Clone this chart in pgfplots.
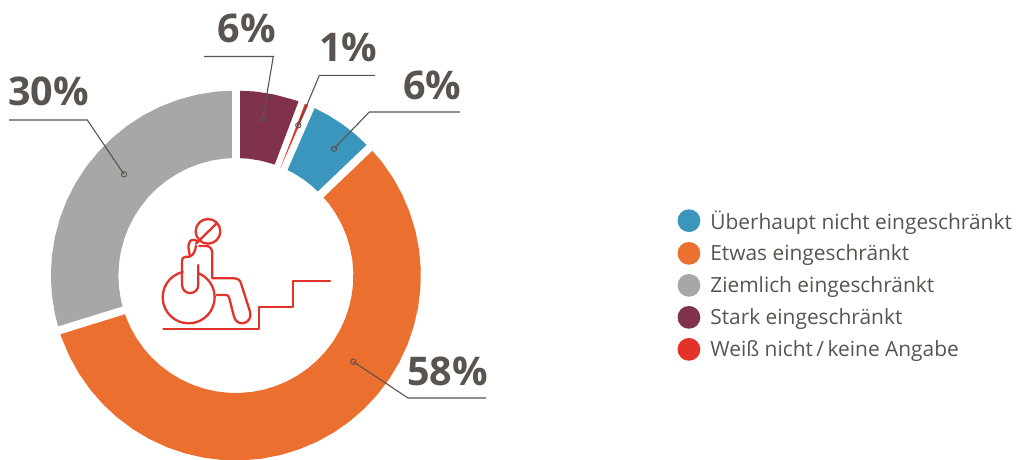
\documentclass[border=0pt]{standalone}
\usepackage{pgfplots}
\pgfplotsset{compat=1.18}
\usepackage{fontspec}
\setmainfont{Open Sans}
\definecolor{cblue}{HTML}{3A96BC}
\definecolor{corange}{HTML}{EB7030}
\definecolor{cgray}{HTML}{A9A7A5}
\definecolor{cdark}{HTML}{80324B}
\definecolor{cred}{HTML}{E2332A}
\definecolor{ctext}{HTML}{59544F}
\begin{document}
\begin{tikzpicture}
\path[use as bounding box] (0,0) rectangle (1018pt,459pt);
\begin{axis}[
  at={(0,0)}, anchor=south west,
  width=1018pt, height=459pt, scale only axis, hide axis, clip=true,
  xmin=-235.85, xmax=782.15, ymin=-183.5, ymax=275.5,
  legend style={at={(677.5/1018,1-208.6/459)}, anchor=north west, draw=none, fill=none,
    inner sep=0pt, outer sep=0pt, font=\fontsize{20.9}{22}\selectfont\color{ctext},
    row sep=9.2pt, column sep=0pt, legend cell align=left, /tikz/every odd column/.append style={column sep=8pt}},
  legend image code/.code={\path[#1] (11.4pt,0pt) circle (11.4pt);},
]
% blue
\addplot[fill=cblue, draw=none, data cs=polar] coordinates {
 (64.8,185)(60,185)(55,185)(50,185)(43.7,185)
 (43.7,117.5)(50,117.5)(55,117.5)(60,117.5)(63.9,117.5)} -- cycle;
\addlegendentry{Überhaupt nicht eingeschränkt}
% orange: from 43.7 to -162.75 degrees
\addplot[fill=corange, draw=none, data cs=polar] coordinates {
 (43.7,185)(38,185)(32,185)(26,185)(20,185)(14,185)(8,185)(2,185)(-4,185)(-10,185)(-16,185)(-22,185)
 (-28,185)(-34,185)(-40,185)(-46,185)(-52,185)(-58,185)(-64,185)(-70,185)(-76,185)(-82,185)(-88,185)
 (-94,185)(-100,185)(-106,185)(-112,185)(-118,185)(-124,185)(-130,185)(-136,185)(-142,185)(-148,185)
 (-154,185)(-160,185)(-162.75,185)
 (-162.75,117.5)(-160,117.5)(-154,117.5)(-148,117.5)(-142,117.5)(-136,117.5)(-130,117.5)(-124,117.5)
 (-118,117.5)(-112,117.5)(-106,117.5)(-100,117.5)(-94,117.5)(-88,117.5)(-82,117.5)(-76,117.5)(-70,117.5)
 (-64,117.5)(-58,117.5)(-52,117.5)(-46,117.5)(-40,117.5)(-34,117.5)(-28,117.5)(-22,117.5)(-16,117.5)
 (-10,117.5)(-4,117.5)(2,117.5)(8,117.5)(14,117.5)(20,117.5)(26,117.5)(32,117.5)(38,117.5)(43.7,117.5)} -- cycle;
\addlegendentry{Etwas eingeschränkt}
% gray: from 197.25 to 90 degrees
\addplot[fill=cgray, draw=none, data cs=polar] coordinates {
 (197.25,185)(192,185)(186,185)(180,185)(174,185)(168,185)(162,185)(156,185)(150,185)(144,185)(138,185)
 (132,185)(126,185)(120,185)(114,185)(108,185)(102,185)(96,185)(90,185)
 (90,117.5)(96,117.5)(102,117.5)(108,117.5)(114,117.5)(120,117.5)(126,117.5)(132,117.5)(138,117.5)
 (144,117.5)(150,117.5)(156,117.5)(162,117.5)(168,117.5)(174,117.5)(180,117.5)(186,117.5)(192,117.5)(197.25,117.5)} -- cycle;
\addlegendentry{Ziemlich eingeschränkt}
% dark red
\addplot[fill=cdark, draw=none, data cs=polar] coordinates {
 (90,185)(84,185)(78,185)(72,185)(70.2,185)
 (70.7,117.5)(72,117.5)(78,117.5)(84,117.5)(90,117.5)} -- cycle;
\addlegendentry{Stark eingeschränkt}
% white gaps
\addplot[white, line width=8pt, data cs=polar, forget plot] coordinates {(90,100)(90,200)};
\addplot[white, line width=8pt, data cs=polar, forget plot] coordinates {(43.7,100)(43.7,200)};
\addplot[white, line width=8pt, data cs=polar, forget plot] coordinates {(197.25,100)(197.25,200)};
% red sliver
\addplot[fill=cred, draw=none, data cs=polar] coordinates {(68.1,185)(67.0,185)(67.5,116)} -- cycle;
\addlegendentry{Weiß nicht\,/\,keine Angabe}
\end{axis}
\begin{axis}[
  at={(0,0)}, anchor=south west,
  width=1018pt, height=459pt, scale only axis, hide axis, clip=false,
  xmin=0, xmax=1018, ymin=0, ymax=459, y dir=reverse,
]
\addplot[ctext, line width=1.1pt] coordinates {(204,56.5)(273.3,56.5)(262.7,119)};
\addplot[ctext, line width=1.1pt] coordinates {(375,75.3)(319.4,75.3)(298.3,125.3)};
\addplot[ctext, line width=1.1pt] coordinates {(460,112)(369.3,112)(334,148.7)};
\addplot[ctext, line width=1.1pt] coordinates {(9,120)(87.3,120)(124,174.3)};
\addplot[ctext, line width=1.1pt] coordinates {(486,398)(408,398)(353.3,361.7)};
\addplot[only marks, mark=o, mark size=2.7pt, mark options={draw=ctext, line width=0.9pt, fill=none}] coordinates {
 (262.7,119)(298.3,125.3)(334,148.7)(124,174.3)(353.3,361.7)};
\node[anchor=base west, inner sep=0pt, text=ctext, font=\fontsize{39.5}{44}\selectfont\bfseries] at (axis cs:217.5,42.5) {6\%};
\node[anchor=base west, inner sep=0pt, text=ctext, font=\fontsize{39.5}{44}\selectfont\bfseries] at (axis cs:319,61) {1\%};
\node[anchor=base west, inner sep=0pt, text=ctext, font=\fontsize{39.5}{44}\selectfont\bfseries] at (axis cs:403,99) {6\%};
\node[anchor=base west, inner sep=0pt, text=ctext, font=\fontsize{39.5}{44}\selectfont\bfseries] at (axis cs:8,105) {30\%};
\node[anchor=base west, inner sep=0pt, text=ctext, font=\fontsize{39.5}{44}\selectfont\bfseries] at (axis cs:407,385.5) {58\%};
\end{axis}
\begin{scope}[shift={(160pt,244pt)}, x=0.3333pt, y=-0.3333pt, cred, line width=2.3pt, line cap=round, line join=round]
\draw (144,49) circle[radius=37];
\draw (168,27) -- (108,86);
\draw (112,78) .. controls (100,72) and (90,72) .. (86,88) .. controls (84,100) and (88,112) .. (90,124);
\draw (108,92) .. controls (106,108) and (100,122) .. (88,125) -- (78,125) .. controls (70,125) and (66,130) .. (66,140) -- (66,208) .. controls (66,243) and (115,243) .. (115,208) -- (115,150);
\draw (118,93) -- (138,93) .. controls (150,93) and (157,102) .. (157,115) -- (157,190) -- (222,190) .. controls (235,190) and (241,196) .. (244,208) -- (270,290) .. controls (280,325) and (232,340) .. (222,305) -- (208,250) .. controls (206,243) and (204,240) .. (198,240) -- (170,240);
\draw (86,247) ++(257:78) arc[start angle=257, end angle=-68, radius=78];
\draw (10,343) -- (298,343) -- (298,275) -- (398,275) -- (398,198) -- (510,198);
\end{scope}
\end{tikzpicture}
\end{document}
